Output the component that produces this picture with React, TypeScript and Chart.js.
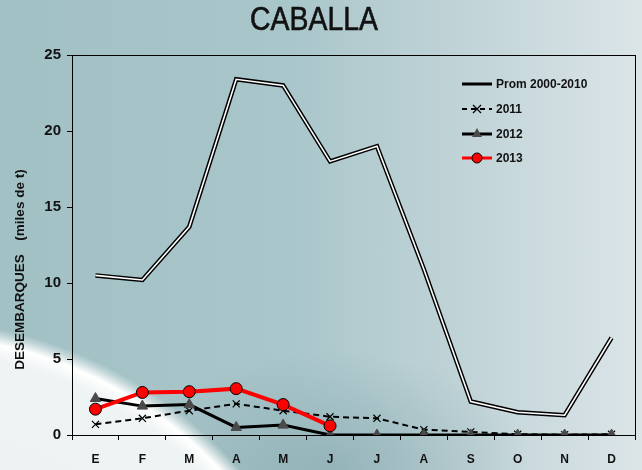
import React, { useEffect, useRef } from "react";
import { Chart, registerables } from "chart.js";
Chart.register(...registerables);

const months = ["E", "F", "M", "A", "M", "J", "J", "A", "S", "O", "N", "D"];
const prom = [10.5, 10.2, 13.7, 23.4, 23.0, 18.0, 19.0, 10.9, 2.2, 1.5, 1.3, 6.4];
const y2011 = [0.7, 1.1, 1.6, 2.05, 1.6, 1.2, 1.1, 0.35, 0.2, 0.05, 0.02, 0.05];
const y2012 = [2.4, 1.9, 2.0, 0.5, 0.65, 0, 0, 0, 0, 0, 0, 0];
const y2013 = [1.7, 2.8, 2.85, 3.05, 2.0, 0.6, null, null, null, null, null, null];
const yTicks = [0, 5, 10, 15, 20, 25];
const legendLabels = ["Prom 2000-2010", "2011", "2012", "2013"];

const decor = {
  id: "decor",
  afterDraw(chart: any) {
    const { ctx, chartArea: a } = chart;
    ctx.save();
    // box
    ctx.strokeStyle = "#000";
    ctx.lineWidth = 1;
    ctx.strokeRect(a.left + 0.5, a.top + 0.5, a.right - a.left, a.bottom - a.top);
    // title
    ctx.save();
    ctx.fillStyle = "#111";
    ctx.font = "33px 'Liberation Sans', Arial, sans-serif";
    ctx.textAlign = "center";
    ctx.textBaseline = "middle";
    ctx.translate(314, 21);
    ctx.scale(0.86, 1);
    ctx.fillText("CABALLA", 0, 0);
    ctx.lineWidth = 0.6;
    ctx.strokeStyle = "#111";
    ctx.strokeText("CABALLA", 0, 0);
    ctx.restore();
    // y title
    ctx.save();
    ctx.fillStyle = "#111";
    ctx.textAlign = "center";
    ctx.textBaseline = "middle";
    ctx.translate(20, 0);
    ctx.rotate(-Math.PI / 2);
    ctx.font = "bold 13.5px 'Liberation Sans', Arial, sans-serif";
    ctx.fillText("DESEMBARQUES", -312, 0);
    ctx.fillText("(miles de t)", -205, 0);
    ctx.restore();
    // legend
    const lx0 = 462, lx1 = 492, tx = 496;
    const rows = [84, 109, 134, 158];
    ctx.font = "bold 12px 'Liberation Sans', Arial, sans-serif";
    ctx.textAlign = "left";
    ctx.textBaseline = "middle";
    rows.forEach((y, i) => {
      ctx.beginPath();
      ctx.setLineDash(i === 1 ? [5, 4] : []);
      ctx.strokeStyle = i === 3 ? "#ff0000" : "#000";
      ctx.lineWidth = i === 1 ? 2 : 3;
      ctx.moveTo(lx0, y);
      ctx.lineTo(lx1, y);
      ctx.stroke();
      ctx.setLineDash([]);
      const cx = (lx0 + lx1) / 2;
      if (i === 1) {
        ctx.lineWidth = 1.2;
        ctx.strokeStyle = "#000";
        ctx.beginPath();
        ctx.moveTo(cx - 4, y - 4); ctx.lineTo(cx + 4, y + 4);
        ctx.moveTo(cx - 4, y + 4); ctx.lineTo(cx + 4, y - 4);
        ctx.stroke();
      } else if (i === 2) {
        ctx.fillStyle = "#4a4a4a";
        ctx.beginPath();
        ctx.moveTo(cx, y - 6); ctx.lineTo(cx + 5, y + 3); ctx.lineTo(cx - 5, y + 3);
        ctx.closePath();
        ctx.fill();
      } else if (i === 3) {
        ctx.fillStyle = "#ff0000";
        ctx.strokeStyle = "#000";
        ctx.lineWidth = 1;
        ctx.beginPath();
        ctx.arc(cx, y, 5, 0, Math.PI * 2);
        ctx.fill();
        ctx.stroke();
      }
      ctx.fillStyle = "#111";
      ctx.fillText(legendLabels[i], tx, y + 1);
    });
    ctx.restore();
  },
};

export default function App() {
  const ref = useRef<HTMLCanvasElement>(null);
  useEffect(() => {
    const chart = new Chart(ref.current!, {
      type: "line",
      data: {
        labels: months,
        datasets: [
          {
            label: "2013",
            data: y2013,
            borderColor: "#ff0000",
            borderWidth: 4,
            pointStyle: "circle",
            pointRadius: 6,
            pointBackgroundColor: "#ff0000",
            pointBorderColor: "#000",
            pointBorderWidth: 1,
            order: 0,
          },
          {
            label: "2012",
            data: y2012,
            borderColor: "#000",
            borderWidth: 3,
            pointStyle: "triangle",
            pointRadius: 6,
            pointBackgroundColor: "#4a4a4a",
            pointBorderColor: "#4a4a4a",
            pointBorderWidth: 1,
            order: 1,
          },
          {
            label: "2011",
            data: y2011,
            borderColor: "#000",
            borderWidth: 2,
            borderDash: [6, 4],
            pointStyle: "crossRot",
            pointRadius: 5,
            pointBorderColor: "#000",
            pointBorderWidth: 1.2,
            order: 2,
          },
          {
            label: "Prom 2000-2010 inner",
            data: prom,
            borderColor: "#ffffff",
            borderWidth: 1.6,
            pointRadius: 0,
            order: 3,
          },
          {
            label: "Prom 2000-2010",
            data: prom,
            borderColor: "#000",
            borderWidth: 4.5,
            pointRadius: 0,
            order: 4,
          },
        ],
      },
      options: {
        animation: false,
        responsive: false,
        maintainAspectRatio: false,
        layout: { padding: { left: 0, right: 6, top: 55, bottom: 0 } },
        plugins: { legend: { display: false }, title: { display: false }, tooltip: { enabled: false } },
        scales: {
          x: {
            offset: true,
            grid: { display: true, offset: true, drawOnChartArea: false, drawTicks: true, tickLength: 5, color: "#000" },
            border: { color: "#000", width: 1 },
            ticks: { color: "#111", font: { family: "'Liberation Sans', Arial, sans-serif", size: 12, weight: "bold" }, padding: 12 },
            afterFit: (s: any) => { s.height = 35; },
          },
          y: {
            min: 0,
            max: 25,
            afterBuildTicks: (s: any) => { s.ticks = yTicks.map((v) => ({ value: v })); },
            grid: { display: true, drawOnChartArea: false, drawTicks: true, tickLength: 5, color: "#000" },
            border: { color: "#000", width: 1 },
            ticks: { color: "#111", font: { family: "'Liberation Sans', Arial, sans-serif", size: 15, weight: "bold" }, padding: 6 },
            afterFit: (s: any) => { s.width = 72; },
          },
        },
      },
      plugins: [decor],
    });
    return () => chart.destroy();
  }, []);
  return (
    <div
      style={{
        position: "fixed",
        left: 0,
        top: 0,
        width: 642,
        height: 470,
        background:
          "radial-gradient(circle 440px at -90px 760px, #e9eff1 0%, #eef3f4 93%, #ffffff 96.5%, #c7d9db 98.5%, rgba(150,182,187,0) 100%), radial-gradient(ellipse 200px 120px at 330px 470px, rgba(130,165,171,0.6) 0%, rgba(130,165,171,0) 100%), linear-gradient(to right, #a2c1c5 0%, #a9c6ca 45%, #c3d5d9 75%, #dbe5e8 100%)",
      }}
    >
      <canvas ref={ref} width={642} height={470} style={{ display: "block" }} />
    </div>
  );
}
